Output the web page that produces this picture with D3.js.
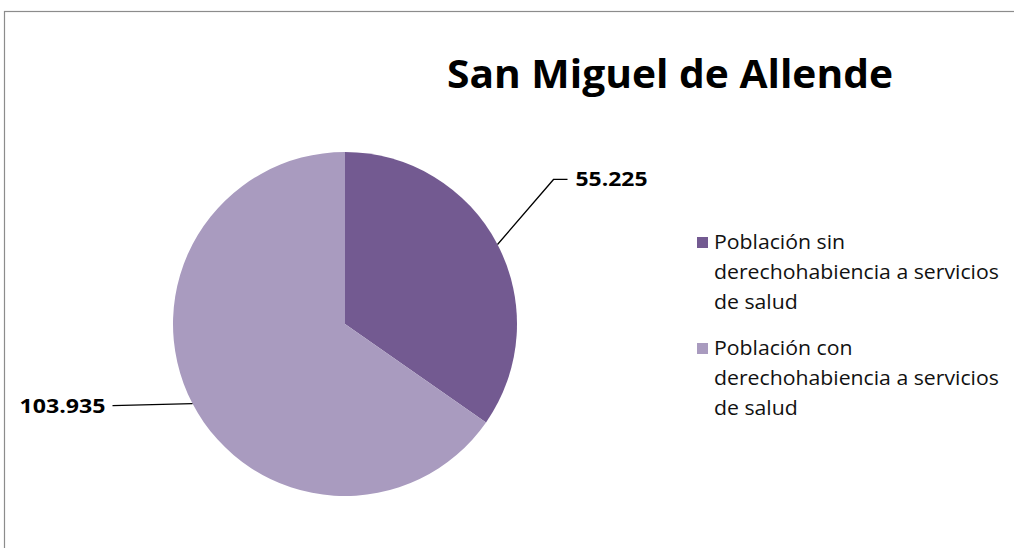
<!DOCTYPE html>
<html>
<head>
<meta charset="utf-8">
<script src="https://cdn.jsdelivr.net/npm/d3@7"></script>
<style>
  body { margin: 0; background: #fff; }
  svg { display: block; font-family: "Open Sans", Lato, sans-serif; }
</style>
</head>
<body>
<svg id="chart" width="1014" height="548"></svg>
<script>
// data
var categories = ["Población sin derechohabiencia a servicios de salud",
                  "Población con derechohabiencia a servicios de salud"];
var values = [55225, 103935];
var valueLabels = ["55.225", "103.935"];
var legendLines = [["Población sin", "derechohabiencia a servicios", "de salud"],
                   ["Población con", "derechohabiencia a servicios", "de salud"]];
var colors = ["#735a91", "#a99bbf"];
var title = "San Miguel de Allende";

var svg = d3.select("#chart");

// frame (cut off at right/bottom like the original)
svg.append("rect").attr("x", 4.5).attr("y", 11.5).attr("width", 1100).attr("height", 600)
   .attr("fill", "none").attr("stroke", "#8c8c8c").attr("stroke-width", 1.2);

svg.append("text").attr("x", 670).attr("y", 88).attr("text-anchor", "middle")
   .attr("font-size", 39).attr("font-weight", "bold").attr("fill", "#000")
   .attr("textLength", 446).attr("lengthAdjust", "spacingAndGlyphs").text(title);

var cx = 345, cy = 324, r = 172;
var pie = d3.pie().sort(null).value(function(d){return d});
var arcs = pie(values);
var arc = d3.arc().innerRadius(0).outerRadius(r);

var g = svg.append("g").attr("transform", "translate(" + cx + "," + cy + ")");
g.selectAll("path").data(arcs).enter().append("path")
  .attr("d", arc)
  .attr("fill", function(d,i){return colors[i]});

// leader lines + labels
var edge = d3.arc().innerRadius(r).outerRadius(r);
var labelInfo = [
  {elbow:[56,-65], end:[70,-65], anchor:"start", dx:8, dy:7, w:72},
  {elbow:[-80,2], end:[-80,2], anchor:"end", dx:-7, dy:7, w:86}
];
arcs.forEach(function(a,i){
  var p = edge.centroid(a);
  var L = labelInfo[i];
  var e1 = [p[0]+L.elbow[0], p[1]+L.elbow[1]];
  var e2 = [p[0]+L.end[0], p[1]+L.end[1]];
  g.append("polyline")
    .attr("points", [p, e1, e2].map(function(q){return q.join(",")}).join(" "))
    .attr("fill", "none").attr("stroke", "#000").attr("stroke-width", 1.3);
  g.append("text").attr("x", e2[0]+L.dx).attr("y", e2[1]+L.dy)
    .attr("text-anchor", L.anchor).attr("font-size", 19).attr("font-weight", "bold")
    .attr("fill", "#000").attr("textLength", L.w).attr("lengthAdjust", "spacingAndGlyphs")
    .text(valueLabels[i]);
});

// legend
var legend = svg.append("g").attr("transform", "translate(697,237)");
var items = legend.selectAll("g").data(categories).enter().append("g")
  .attr("transform", function(d,i){return "translate(0," + (i*106) + ")"});
items.append("rect").attr("width", 11).attr("height", 11)
  .attr("fill", function(d,i){return colors[i]});
items.each(function(d,i){
  var t = d3.select(this).append("text")
    .attr("transform", "translate(17,12) scale(1.09,1)")
    .attr("font-size", 19.5).attr("fill", "#111");
  legendLines[i].forEach(function(s,j){
    t.append("tspan").attr("x", 0).attr("dy", j===0 ? 0 : 30).text(s);
  });
});
</script>
</body>
</html>
